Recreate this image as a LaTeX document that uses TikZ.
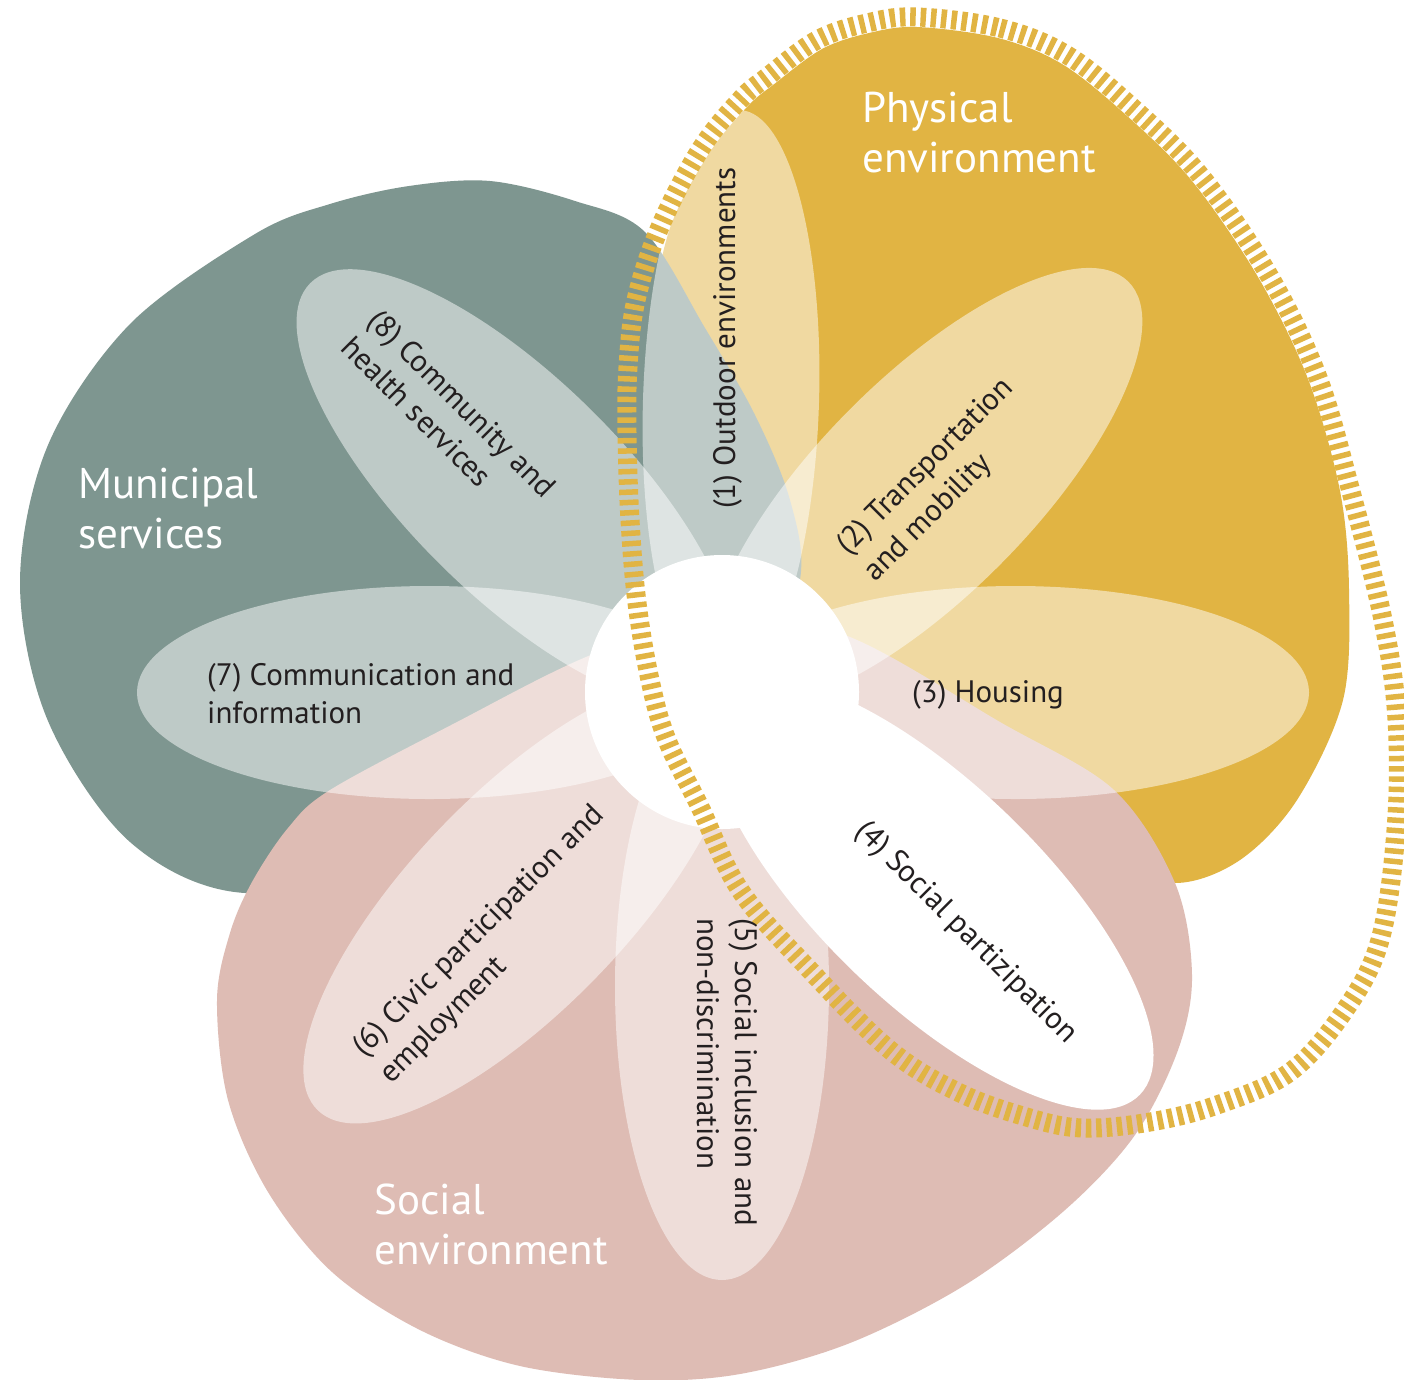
\documentclass[tikz,border=0pt]{standalone}
\usepackage{fontspec}
\setmainfont{PT Sans}
\definecolor{mgreen}{HTML}{7E9690}
\definecolor{pgold}{HTML}{E1B443}
\definecolor{spink}{HTML}{DEBCB4}
\definecolor{ink}{HTML}{231F20}
\begin{document}
\begin{tikzpicture}[x=1pt,y=-1pt]
\tikzset{
  petalfill/.style={fill=white, fill opacity=0.5},
  solidpetal/.style={fill=white},
  regiontext/.style={text=white, font=\fontsize{43}{52}\selectfont, anchor=base west, inner sep=0pt},
  petaltext/.style={text=ink, font=\fontsize{31}{38}\selectfont, anchor=base west, inner sep=0pt},
  dashloop/.style={draw=pgold, line width=19pt, dash pattern=on 5.5pt off 4.8pt}
}
\useasboundingbox (0,0) rectangle (1404,1379);
\fill[white] (0,0) rectangle (1404,1379);

% Physical environment (gold)
\fill[pgold] plot[smooth cycle, tension=0.55] coordinates {
 (652,330) (669,231) (708,155) (747,107) (773,85) (822,49) (869,33) (917,27)
 (998,38) (1062,64) (1126,115) (1192,181) (1258,277) (1308,379) (1340,491)
 (1349,590) (1343,700) (1297,800) (1240,860) (1175,883) (1100,860) (950,780)
 (790,700) (690,600) (660,450)};

% Municipal services (green)
\fill[mgreen] plot[smooth cycle, tension=0.55] coordinates {
 (20,583) (48,445) (130,324) (255,234) (330,204) (409,186) (490,181)
 (575,201) (645,232) (705,328) (755,415) (790,500) (800,580) (760,690)
 (600,780) (420,860) (245,893) (130,842) (48,721)};

% Social environment (pink)
\fill[spink] plot[smooth cycle, tension=0.55] coordinates {
 (722,610) (850,637) (1000,722) (1114,790) (1175,883) (1192,975) (1178,1050)
 (1135,1135) (1065,1210) (965,1285) (850,1343) (740,1374) (640,1380)
 (520,1366) (420,1330) (332,1272) (268,1192) (228,1100) (217,1000)
 (230,933) (252,882) (288,828) (330,790) (457,722) (586,657)};

% translucent petals
\fill[petalfill, rotate around={88.2:(731,401)}] (731,401) ellipse (291 and 88);
\fill[petalfill, rotate around={45.3:(925,487)}] (925,487) ellipse (289 and 108);
\fill[petalfill] (1015.5,692.5) ellipse (293.5 and 106.5);
\fill[petalfill, rotate around={-90:(722,986)}] (722,986) ellipse (294 and 107);
\fill[petalfill, rotate around={-134:(520,901)}] (520,901) ellipse (291 and 108);
\fill[petalfill] (429.5,692.5) ellipse (292.5 and 106.5);
\fill[petalfill, rotate around={135.2:(516,487.5)}] (516,487.5) ellipse (290 and 108);

% centre and petal 4
\fill[white] (722,692) circle (137);
\fill[solidpetal, rotate around={-43.9:(931,893.5)}] (931,893.5) ellipse (290 and 110);

% dashed loop
\draw[dashloop] plot[smooth cycle, tension=0.6] coordinates {
 (917,17) (1000,28) (1067,55) (1133,108) (1200,175) (1267,272) (1317,375)
 (1350,488) (1383,620) (1397,720) (1396,830) (1380,940) (1345,1010)
 (1290,1072) (1217,1105) (1150,1122) (1083,1128) (1030,1118) (960,1093)
 (890,1050) (807,967) (740,890) (700,807) (667,740) (650,680) (637,603)
 (630,520) (627,433) (628,367) (636,300) (660,227) (700,150) (740,100)
 (767,77) (817,40) (867,23)};

% region labels
\node[regiontext] (r1a) at (862,122) {Physical};
\node[regiontext] (r1b) at (862,172) {environment};
\node[regiontext] (r2a) at (78,498) {Municipal};
\node[regiontext] (r2b) at (78,548) {services};
\node[regiontext] (r3a) at (374,1214) {Social};
\node[regiontext] (r3b) at (374,1264) {environment};

% petal labels
\node[petaltext, rotate=90] (t1) at (735,509) {(1) Outdoor environments};
\node[petaltext, rotate=45] (t2a) at (848,556) {(2) Transportation};
\node[petaltext, rotate=45] (t2b) at (875,583) {and mobility};
\node[petaltext] (t3) at (912,702) {(3) Housing};
\node[petaltext, rotate=-45] (t4) at (854,832) {(4) Social partizipation};
\node[petaltext, rotate=-90] (t5a) at (735,918) {(5) Social inclusion and};
\node[petaltext, rotate=-90] (t5b) at (697,918) {non-discrimination};
\node[petaltext, rotate=45] (t6a) at (364,1058) {(6) Civic participation and};
\node[petaltext, rotate=45] (t6b) at (391,1085) {employment};
\node[petaltext] (t7a) at (207,685) {(7) Communication and};
\node[petaltext] (t7b) at (207,723) {information};
\node[petaltext, rotate=-45] (t8a) at (366,322) {(8) Community and};
\node[petaltext, rotate=-45] (t8b) at (339,349) {health services};
\end{tikzpicture}
\end{document}
